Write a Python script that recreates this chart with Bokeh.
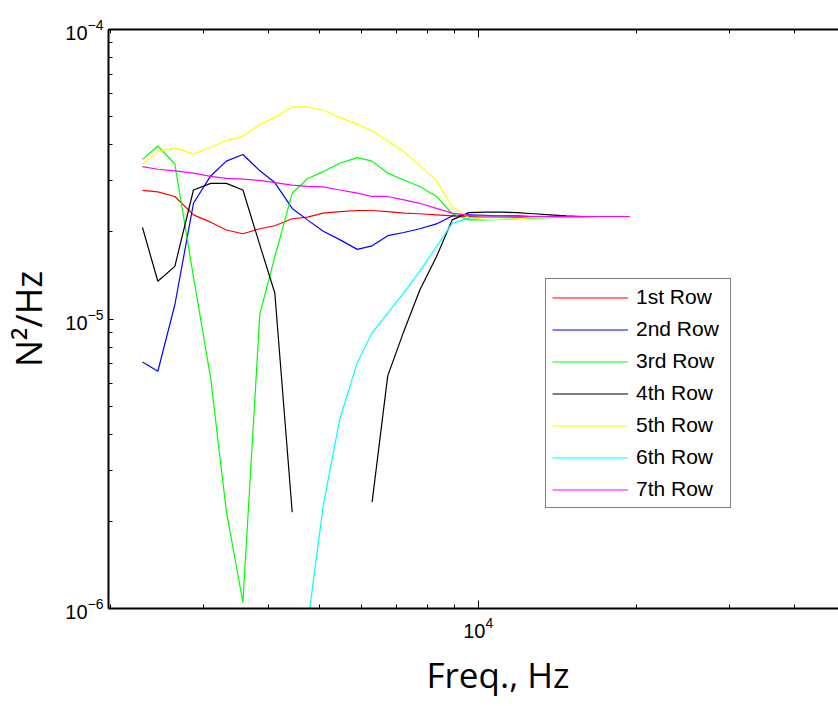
from bokeh.plotting import figure
from bokeh.models import Range1d, FixedTicker, LogAxis, Legend, LegendItem, Title
from bokeh.embed import file_html
from bokeh.resources import INLINE
import numpy as np

nan = float("nan")

# Frequency grid of the spectra (Hz)
freq_hz = [2300, 2460, 2650, 2875, 3100, 3320, 3570, 3845, 4105, 4430,
           4735, 5075, 5455, 5890, 6285, 6730, 7220, 7745, 8330, 8925,
           9600, 10300, 11065, 11880, 12760, 13695, 14710, 15790, 16960, 18200,
           19400]

# Power spectral density per row, in units of 1e-5 N^2/Hz (nan = no positive value)
row_1 = [2.78, 2.75, 2.65, 2.29, 2.16, 2.03, 1.97, 2.05, 2.10, 2.22,
         2.25, 2.32, 2.35, 2.37, 2.37, 2.35, 2.32, 2.31, 2.29, 2.27,
         2.26, 2.25, 2.25, 2.25, 2.25, 2.26, 2.26, 2.26, 2.26, 2.26,
         2.26]
row_2 = [0.71, 0.66, 1.12, 2.51, 3.12, 3.51, 3.70, 3.25, 2.96, 2.41,
         2.20, 2.01, 1.88, 1.74, 1.79, 1.94, 1.99, 2.05, 2.13, 2.27,
         2.29, 2.28, 2.27, 2.27, 2.26, 2.26, 2.26, 2.26, 2.26, 2.26,
         2.26]
row_3 = [3.56, 3.96, 3.43, 1.40, 0.624, 0.217, 0.105, 1.04, 1.64, 2.72,
         3.05, 3.23, 3.45, 3.61, 3.51, 3.19, 3.02, 2.87, 2.65, 2.31,
         2.20, 2.20, 2.21, 2.22, 2.23, 2.24, 2.25, 2.25, 2.26, 2.26,
         2.26]
row_4 = [2.07, 1.35, 1.52, 2.79, 2.94, 2.94, 2.79, 1.80, 1.23, 0.215,
         nan, nan, nan, nan, 0.233, 0.636, 0.906, 1.26, 1.64, 2.20,
         2.33, 2.34, 2.34, 2.33, 2.31, 2.29, 2.27, 2.26, 2.26, 2.26,
         2.26]
row_5 = [3.42, 3.80, 3.90, 3.71, 3.92, 4.13, 4.28, 4.70, 4.97, 5.40,
         5.40, 5.26, 4.97, 4.71, 4.47, 4.12, 3.78, 3.40, 3.00, 2.44,
         2.24, 2.21, 2.21, 2.22, 2.24, 2.25, 2.26, 2.26, 2.26, 2.26,
         2.26]
row_6 = [nan, nan, nan, nan, nan, nan, nan, nan, nan, nan,
         0.087, 0.227, 0.451, 0.707, 0.896, 1.05, 1.23, 1.46, 1.78, 2.14,
         2.23, 2.25, 2.25, 2.26, 2.26, 2.26, 2.26, 2.26, 2.26, 2.26,
         2.26]
row_7 = [3.36, 3.29, 3.25, 3.19, 3.11, 3.06, 3.04, 3.01, 2.96, 2.90,
         2.87, 2.86, 2.79, 2.72, 2.65, 2.65, 2.58, 2.51, 2.41, 2.32,
         2.28, 2.27, 2.27, 2.26, 2.26, 2.26, 2.26, 2.26, 2.26, 2.26,
         2.26]

row_labels = ["1st Row", "2nd Row", "3rd Row", "4th Row", "5th Row", "6th Row", "7th Row"]
row_colors = ["#ff0000", "#0000ff", "#00ff00", "#000000", "#ffff00", "#00ffff", "#ff00ff"]
rows = [row_1, row_2, row_3, row_4, row_5, row_6, row_7]
unit = 1e-5

p = figure(width=838, height=706,
           x_axis_type="log", y_axis_type="log",
           x_range=Range1d(1982, 48430), y_range=Range1d(1e-6, 1e-4),
           output_backend="svg", toolbar_location=None,
           min_border_left=108, min_border_right=0,
           min_border_top=29, min_border_bottom=96)
p.outline_line_color = None
p.xgrid.visible = False
p.ygrid.visible = False
p.background_fill_color = "white"
p.border_fill_color = "white"

x_ticker = FixedTicker(ticks=[1e4],
                       minor_ticks=[2000, 3000, 4000, 5000, 6000, 7000, 8000, 9000,
                                    20000, 30000, 40000])
y_minor = [m * 10.0 ** e for e in (-6, -5) for m in range(2, 10)]
y_ticker = FixedTicker(ticks=[1e-6, 1e-5, 1e-4], minor_ticks=y_minor)

def style_axis(ax):
    ax.axis_line_width = 2
    ax.axis_line_color = "black"
    ax.major_tick_in = 8
    ax.major_tick_out = 0
    ax.minor_tick_in = 4
    ax.minor_tick_out = 0
    ax.major_tick_line_color = "black"
    ax.minor_tick_line_color = "black"
    ax.major_label_text_font = "Liberation Sans"
    ax.major_label_text_font_size = "20px"
    ax.major_label_text_color = "black"

xax = p.xaxis[0]
xax.ticker = x_ticker
style_axis(xax)
xax.major_label_standoff = 8

yax = p.yaxis[0]
yax.ticker = y_ticker
style_axis(yax)
yax.major_tick_in = 5
yax.major_label_standoff = 5
yax.axis_label = "N²/Hz"
yax.axis_label_text_font = "Open Sans"
yax.axis_label_text_font_size = "36px"
yax.axis_label_text_font_style = "normal"
yax.axis_label_text_color = "black"
yax.axis_label_standoff = 9

top = LogAxis(ticker=x_ticker)
style_axis(top)
top.major_label_text_font_size = "0px"
top.major_label_standoff = 0
top.major_label_text_color = None
p.add_layout(top, "above")

items = []
for label, color, vals in zip(row_labels, row_colors, rows):
    y = np.array(vals, dtype=float) * unit
    r = p.line(freq_hz, y, line_color=color, line_width=1.2)
    items.append(LegendItem(label=label, renderers=[r]))

legend = Legend(items=items, location=(437, 100),
                glyph_width=76, glyph_height=21, label_height=21, label_width=88,
                label_standoff=8, spacing=8, padding=6, margin=0,
                label_text_font="Liberation Sans", label_text_font_size="21px",
                label_text_color="black",
                border_line_color="black", border_line_width=1,
                background_fill_color="white", background_fill_alpha=1)
p.add_layout(legend, "center")

xtitle = Title(text="Freq., Hz", align="left", offset=318, standoff=17,
               text_font="Open Sans", text_font_size="35px",
               text_font_style="normal", text_color="black")
p.add_layout(xtitle, "below")

open("out.html", "w").write(file_html(p, INLINE))
